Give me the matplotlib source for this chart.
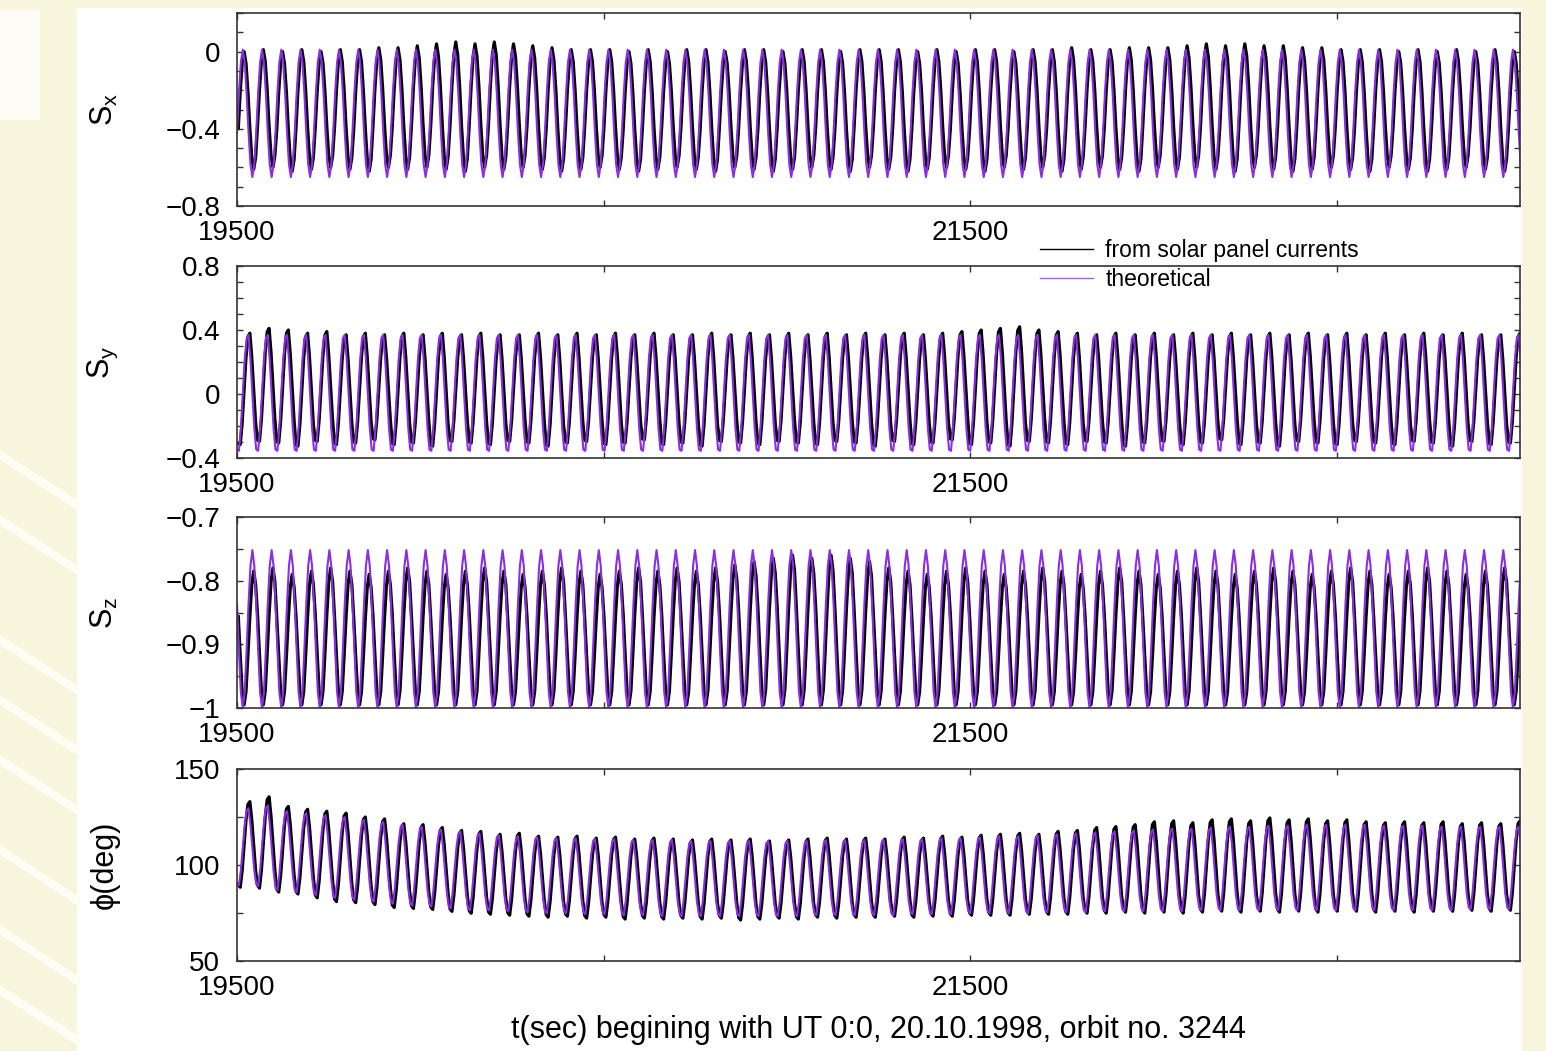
import numpy as np
import matplotlib
matplotlib.use('Agg')
import matplotlib.pyplot as plt
from matplotlib.ticker import MultipleLocator, FixedLocator, FixedFormatter
from matplotlib.lines import Line2D
from matplotlib.patches import Rectangle

plt.rcParams['font.family'] = ['Liberation Sans', 'DejaVu Sans']
plt.rcParams['mathtext.fontset'] = 'custom'
plt.rcParams['mathtext.rm'] = 'Liberation Sans'
plt.rcParams['mathtext.it'] = 'Liberation Sans'

# sampling: ~10 samples for one spin turn of ~52.5 s
t_first = 19500.0
t_step = 5.25
samples_per_turn = 10
n_turns = 67
meas_shift = 3.6   # panel currents sampled a little later

# one turn (0 = bottom of swing, 1 = top)
sx_turn = [0.35, 0.66, 0.90, 1.00, 0.90, 0.66, 0.35, 0.10, 0.00, 0.10]
sy_turn = [0.03, 0.02, 0.21, 0.50, 0.79, 0.97, 1.00, 0.79, 0.50, 0.21]
sz_turn = [0.66, 0.37, 0.10, 0.00, 0.10, 0.37, 0.66, 0.90, 1.00, 0.90]
phi_turn = [0.05, 0.02, 0.21, 0.50, 0.79, 0.97, 1.00, 0.79, 0.50, 0.21]

# theoretical swing limits
sx_theo_top, sx_theo_bot = 0.01, -0.65
sy_theo_top, sy_theo_bot = 0.37, -0.37
sz_theo_top, sz_theo_bot = -0.752, -1.0

phi_theo_top = [129.5, 131.0, 128.0, 127.0, 126.0, 125.0, 123.5, 122.5, 121.0, 120.0,
                118.5, 117.5, 116.5, 115.5, 115.0, 114.5, 114.0, 114.0, 113.5, 113.5,
                113.0, 113.0, 113.0, 112.5, 112.5, 112.5, 112.5, 112.5, 112.5, 112.5,
                113.0, 113.0, 113.0, 113.0, 113.5, 113.5, 114.0, 114.0, 114.5, 115.0,
                115.0, 115.5, 116.0, 116.5, 117.0, 117.5, 118.0, 118.5, 119.0, 119.0,
                119.5, 120.0, 120.0, 120.5, 120.5, 121.0, 121.0, 121.0, 121.0, 120.5,
                120.5, 120.5, 120.0, 120.0, 120.0, 120.0, 120.0]
phi_theo_bot = [88.5, 88.0, 86.0, 85.0, 83.5, 82.0, 81.0, 80.0, 79.0, 78.0,
                77.5, 76.5, 75.5, 75.5, 75.0, 74.5, 74.0, 74.0, 73.5, 73.5,
                73.0, 73.0, 72.5, 72.5, 72.5, 72.5, 72.5, 72.5, 72.5, 72.5,
                73.0, 73.0, 73.0, 73.0, 73.0, 73.5, 73.5, 73.5, 74.0, 74.0,
                74.0, 74.0, 74.5, 74.5, 74.5, 75.0, 75.0, 75.0, 75.0, 75.0,
                75.5, 75.5, 75.5, 75.5, 75.5, 75.5, 75.5, 75.5, 75.5, 75.5,
                75.5, 75.5, 75.5, 75.5, 76.0, 76.0, 76.0]

# from solar panel currents, swing limits per turn
sx_meas_top = [0.00, 0.01, 0.00, 0.01, 0.00, 0.01, 0.01, 0.02, 0.02, 0.03,
               0.04, 0.05, 0.04, 0.05, 0.04, 0.03, 0.02, 0.01, 0.01, 0.01,
               0.00, 0.01, 0.00, 0.01, 0.01, 0.00, 0.01, 0.01, 0.00, 0.01,
               0.01, 0.00, 0.01, 0.01, 0.01, 0.00, 0.01, 0.00, 0.01, 0.01,
               0.00, 0.01, 0.01, 0.02, 0.01, 0.01, 0.02, 0.02, 0.02, 0.03,
               0.04, 0.03, 0.04, 0.03, 0.03, 0.02, 0.02, 0.01, 0.01, 0.01,
               0.00, 0.01, 0.00, 0.01, 0.00, 0.01, 0.00]
sx_meas_bot = [-0.61, -0.60, -0.62, -0.61, -0.60, -0.61, -0.62, -0.60, -0.61, -0.60,
               -0.61, -0.62, -0.60, -0.61, -0.60, -0.61, -0.62, -0.61, -0.60, -0.61,
               -0.62, -0.61, -0.60, -0.61, -0.62, -0.60, -0.61, -0.62, -0.61, -0.60,
               -0.61, -0.62, -0.60, -0.61, -0.62, -0.61, -0.60, -0.61, -0.62, -0.60,
               -0.61, -0.60, -0.62, -0.61, -0.60, -0.61, -0.62, -0.60, -0.61, -0.60,
               -0.61, -0.62, -0.60, -0.61, -0.62, -0.61, -0.60, -0.61, -0.62, -0.60,
               -0.61, -0.62, -0.61, -0.60, -0.61, -0.62, -0.61]
sy_meas_top = [0.38, 0.41, 0.40, 0.38, 0.39, 0.37, 0.38, 0.37, 0.38, 0.37,
               0.38, 0.37, 0.38, 0.37, 0.37, 0.38, 0.37, 0.38, 0.37, 0.38,
               0.37, 0.38, 0.37, 0.37, 0.38, 0.37, 0.38, 0.37, 0.38, 0.37,
               0.38, 0.37, 0.38, 0.37, 0.38, 0.37, 0.38, 0.39, 0.40, 0.41,
               0.42, 0.40, 0.39, 0.38, 0.37, 0.38, 0.37, 0.38, 0.37, 0.38,
               0.37, 0.38, 0.37, 0.38, 0.37, 0.38, 0.37, 0.38, 0.37, 0.38,
               0.37, 0.38, 0.37, 0.38, 0.37, 0.37, 0.38]
sy_meas_bot = [-0.33, -0.31, -0.32, -0.34, -0.31, -0.33, -0.32, -0.30, -0.33, -0.32,
               -0.34, -0.31, -0.32, -0.33, -0.31, -0.32, -0.34, -0.32, -0.31, -0.33,
               -0.32, -0.30, -0.33, -0.32, -0.34, -0.31, -0.32, -0.33, -0.31, -0.32,
               -0.33, -0.31, -0.32, -0.34, -0.31, -0.33, -0.32, -0.30, -0.33, -0.32,
               -0.34, -0.31, -0.32, -0.33, -0.31, -0.32, -0.34, -0.32, -0.31, -0.33,
               -0.32, -0.30, -0.33, -0.32, -0.34, -0.31, -0.32, -0.33, -0.31, -0.32,
               -0.33, -0.31, -0.32, -0.34, -0.31, -0.33, -0.32]
sz_meas_top = [-0.785, -0.780, -0.790, -0.785, -0.780, -0.785, -0.790, -0.785, -0.780, -0.785,
               -0.790, -0.785, -0.780, -0.785, -0.790, -0.785, -0.780, -0.785, -0.790, -0.785,
               -0.780, -0.785, -0.780, -0.785, -0.780, -0.775, -0.770, -0.765, -0.760, -0.765,
               -0.760, -0.765, -0.770, -0.780, -0.785, -0.790, -0.785, -0.780, -0.785, -0.790,
               -0.785, -0.780, -0.785, -0.790, -0.785, -0.780, -0.785, -0.790, -0.785, -0.780,
               -0.785, -0.790, -0.785, -0.780, -0.785, -0.790, -0.785, -0.780, -0.785, -0.790,
               -0.785, -0.780, -0.785, -0.790, -0.785, -0.780, -0.785]
sz_meas_bot = [-0.995] * n_turns
phi_meas_top = [133.0, 135.5, 130.5, 129.0, 128.0, 127.0, 125.0, 124.0, 121.5, 121.0,
                119.5, 118.0, 117.5, 116.0, 116.5, 115.0, 114.5, 115.0, 114.0, 114.5,
                113.5, 114.0, 113.5, 113.0, 113.5, 113.0, 113.5, 112.5, 113.0, 113.5,
                114.0, 113.5, 114.0, 113.5, 114.5, 114.0, 115.0, 114.5, 115.5, 116.0,
                116.5, 116.0, 117.5, 118.0, 119.5, 120.0, 121.0, 122.5, 123.0, 122.0,
                123.5, 124.0, 123.0, 124.5, 123.5, 124.0, 123.0, 123.5, 122.5, 122.0,
                122.5, 122.0, 122.5, 121.5, 122.0, 121.5, 123.0]
phi_meas_bot = [87.5, 87.0, 85.0, 84.0, 82.0, 80.0, 79.5, 78.5, 77.0, 76.5,
                76.0, 75.0, 74.0, 73.5, 73.0, 72.5, 72.0, 72.5, 71.5, 72.0,
                71.0, 71.5, 71.0, 71.5, 71.0, 71.5, 70.5, 71.0, 71.5, 71.0,
                72.0, 71.5, 72.0, 72.0, 72.5, 72.0, 72.5, 72.5, 73.0, 73.0,
                73.0, 73.5, 73.5, 73.5, 74.0, 74.0, 74.5, 74.0, 74.5, 74.0,
                74.5, 75.0, 74.5, 75.0, 74.5, 75.0, 74.5, 75.0, 75.0, 74.5,
                75.0, 74.5, 75.0, 75.0, 75.5, 75.0, 75.5]

# axes ticks and labels
x_ticks = [19500, 20500, 21500, 22500]
x_tick_labels = ['19500', '', '21500', '']
y_names = [r'$\mathrm{S}_{\mathrm{x}}$', r'$\mathrm{S}_{\mathrm{y}}$',
           r'$\mathrm{S}_{\mathrm{z}}$', 'ϕ(deg)']
y_limits = [(-0.8, 0.2), (-0.4, 0.8), (-1.0, -0.7), (50, 150)]
y_ticks = [[-0.8, -0.4, 0.0], [-0.4, 0.0, 0.4, 0.8],
           [-1.0, -0.9, -0.8, -0.7], [50, 100, 150]]
y_tick_labels = [['−0.8', '−0.4', '0'], ['−0.4', '0', '0.4', '0.8'],
                 ['−1', '−0.9', '−0.8', '−0.7'], ['50', '100', '150']]
y_minor = [0.1, 0.1, 0.05, 25]
legend_labels = ['from solar panel currents', 'theoretical']
x_title = 't(sec) begining with UT 0:0, 20.10.1998, orbit no. 3244'


def build(top, bot, turn):
    top = np.repeat(np.broadcast_to(np.asarray(top, float), (n_turns,)), samples_per_turn)
    bot = np.repeat(np.broadcast_to(np.asarray(bot, float), (n_turns,)), samples_per_turn)
    shape = np.tile(turn, n_turns)
    return bot + (top - bot) * shape


t_theo = t_first + t_step * np.arange(n_turns * samples_per_turn)
t_meas = t_theo + meas_shift

theo = [build(sx_theo_top, sx_theo_bot, sx_turn),
        build(sy_theo_top, sy_theo_bot, sy_turn),
        build(sz_theo_top, sz_theo_bot, sz_turn),
        build(phi_theo_top, phi_theo_bot, phi_turn)]
meas = [build(sx_meas_top, sx_meas_bot, sx_turn),
        build(sy_meas_top, sy_meas_bot, sy_turn),
        build(sz_meas_top, sz_meas_bot, sz_turn),
        build(phi_meas_top, phi_meas_bot, phi_turn)]

purple = '#8a2fe0'
frame = '#333333'

W, H = 1546, 1051
fig = plt.figure(figsize=(W / 100, H / 100), dpi=100, facecolor='#f7f5dc')
fig.add_artist(Rectangle((77 / W, 0), (1522 - 77) / W, 1 - 8 / H,
                         transform=fig.transFigure, facecolor='white',
                         edgecolor='none', zorder=-5))
# pale streaks of the page background on the left strip
fig.add_artist(Rectangle((0, 1 - 120 / H), 40 / W, 110 / H,
                         transform=fig.transFigure, facecolor='#fdfdf6',
                         edgecolor='none', zorder=-5))
for y0 in [455, 520, 640, 700, 760, 850, 930, 990]:
    fig.add_artist(Line2D([0, 77 / W], [1 - y0 / H, 1 - (y0 + 50) / H],
                          transform=fig.transFigure, color='#fdfdf4',
                          lw=6, zorder=-4))

# panel top/bottom in pixels
panel_px = [(13, 206), (266, 458), (517, 708), (769, 961)]
axes = []
for i, (top_px, bot_px) in enumerate(panel_px):
    ax = fig.add_axes([237 / W, 1 - bot_px / H, (1520 - 237) / W, (bot_px - top_px) / H])
    ax.plot(t_meas, meas[i], color='black', lw=2.3)
    ax.plot(t_theo, theo[i], color=purple, lw=1.5)
    ax.set_xlim(19500, 23000)
    ax.set_ylim(*y_limits[i])
    ax.xaxis.set_major_locator(FixedLocator(x_ticks))
    ax.xaxis.set_major_formatter(FixedFormatter(x_tick_labels))
    ax.yaxis.set_major_locator(FixedLocator(y_ticks[i]))
    ax.yaxis.set_major_formatter(FixedFormatter(y_tick_labels[i]))
    ax.yaxis.set_minor_locator(MultipleLocator(y_minor[i]))
    ax.tick_params(which='both', direction='in', top=True, right=True,
                   length=4, width=1.0, color=frame, labelsize=20)
    ax.tick_params(axis='y', pad=12)
    ax.tick_params(axis='x', pad=10)
    for sp in ax.spines.values():
        sp.set_color(frame)
        sp.set_linewidth(1.2)
    ax.set_ylabel(y_names[i], fontsize=22)
    ax.yaxis.set_label_coords(-0.091, 0.5)
    axes.append(ax)

axes[-1].set_xlabel(x_title, fontsize=22, labelpad=10)

handles = [Line2D([], [], color='black', lw=1.0),
           Line2D([], [], color='#9a66dc', lw=1.0)]
fig.legend(handles, legend_labels, loc='upper left',
           bbox_to_anchor=(1040 / W, 1 - 239 / H), frameon=False,
           fontsize=16.5, handlelength=2.3, handletextpad=0.55,
           labelspacing=0.27, borderpad=0, borderaxespad=0)

fig.savefig('out.png', dpi=100, facecolor=fig.get_facecolor())
